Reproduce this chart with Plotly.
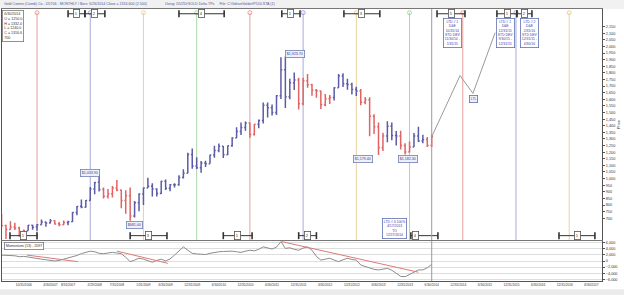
import plotly.graph_objects as go

# ---------------- data ----------------
# month index: 0 = Jan 2006
months = list(range(4, 102))
opens = [656, 645, 614, 634, 626, 599, 606, 647, 635, 650, 672, 663, 680, 658, 650, 667,
         673, 743, 790, 783, 834, 922, 972, 917, 867, 886, 928, 913, 835, 870, 717, 817,
         884, 928, 942, 922, 887, 979, 926, 954, 954, 1008, 1040, 1182, 1096, 1083, 1118, 1113,
         1179, 1212, 1244, 1181, 1248, 1308, 1357, 1386, 1421, 1333, 1411, 1439, 1556, 1536, 1500, 1628,
         1825, 1620, 1725, 1746, 1566, 1740, 1711, 1669, 1664, 1560, 1604, 1614, 1687, 1776, 1719, 1712,
         1675, 1663, 1578, 1597, 1472, 1393, 1234, 1323, 1396, 1327, 1323, 1250, 1202, 1240, 1322, 1284,
         1296, 1250]
highs = [730, 650, 677, 665, 635, 614, 648, 650, 655, 691, 673, 694, 685, 672, 683, 681,
         747, 793, 841, 837, 936, 975, 1034, 932, 922, 944, 989, 915, 912, 933, 831, 889,
         933, 1007, 964, 926, 983, 994, 959, 964, 1026, 1071, 1195, 1227, 1162, 1133, 1135, 1180,
         1249, 1266, 1246, 1250, 1313, 1388, 1425, 1432, 1424, 1414, 1448, 1577, 1577, 1561, 1633, 1918,
         1924, 1756, 1803, 1764, 1764, 1792, 1718, 1678, 1667, 1641, 1632, 1692, 1791, 1798, 1755, 1725,
         1696, 1679, 1617, 1615, 1488, 1425, 1348, 1434, 1424, 1361, 1362, 1267, 1280, 1346, 1392, 1332,
         1315, 1332]
lows = [640, 543, 612, 610, 560, 560, 605, 613, 605, 650, 636, 660, 653, 640, 648, 647,
        671, 723, 775, 782, 833, 882, 903, 849, 850, 857, 904, 775, 734, 681, 705, 752,
        800, 928, 865, 865, 884, 914, 904, 932, 946, 1000, 1040, 1075, 1072, 1044, 1088, 1112,
        1157, 1200, 1155, 1178, 1242, 1308, 1330, 1362, 1309, 1327, 1381, 1418, 1462, 1478, 1481, 1602,
        1535, 1600, 1670, 1523, 1556, 1687, 1627, 1613, 1527, 1548, 1564, 1591, 1687, 1693, 1672, 1636,
        1626, 1555, 1562, 1321, 1338, 1179, 1208, 1275, 1290, 1251, 1221, 1182, 1200, 1240, 1277, 1268,
        1240, 1240]
closes = [643, 614, 634, 626, 599, 606, 646, 632, 650, 672, 663, 680, 657, 650, 667, 673,
          743, 789, 783, 834, 922, 971, 917, 867, 886, 928, 913, 835, 870, 717, 817, 884,
          928, 942, 922, 887, 979, 926, 954, 954, 1008, 1040, 1182, 1096, 1083, 1118, 1113, 1179,
          1212, 1244, 1181, 1248, 1308, 1357, 1386, 1421, 1333, 1411, 1439, 1556, 1536, 1500, 1628, 1825,
          1620, 1725, 1746, 1566, 1740, 1711, 1669, 1664, 1560, 1604, 1614, 1687, 1776, 1719, 1712, 1675,
          1663, 1578, 1597, 1472, 1393, 1234, 1323, 1396, 1327, 1323, 1250, 1202, 1240, 1322, 1284, 1296,
          1250, 1317]
# trend colour of each bar (R = red, B = blue)
bar_trend = ("RRRRRR" "BBBBBB" "RRR" "BBBBBBBB" "RRRRRRR"
             "BBBBBBBBBBBBBBBBBBBBBBBBBB" "RR" "BBBBBBBBB" "RRRRRRRR"
             "BBBBBB" "RRRRRR" "BBB" "RRR" "BBB" "RR")

momentum = [1900, 1900, 1900, 1700, 1400, 1500, 1300, 1000, 900, 600, 400, 300, 0, 200, 600, 1000,
            1300, 1800, 2400, 2700, 3200, 3000, 2500, 2400, 2700, 2800, 2600, 2400, 1200, -200, 300, 900,
            600, 0, -400, 200, 600, 0, 700, 1900, 3200, 4600, 3500, 2500, 2300, 2200, 2100, 2500,
            2800, 3000, 3100, 3200, 3200, 3000, 2800, 3200, 3500, 3300, 3800, 4600, 4200, 3900, 4500, 6300,
            4100, 4300, 3800, 3500, 4200, 4600, 3500, 1500, 300, 500, 900, 300, -200, 400, 900, 500,
            300, -1300, -1800, -2300, -2700, -2900, -2600, -2400, -3000, -4000, -5000, -5100, -4300, -3500, -2900, -2900,
            -2200, -1100]

mom_trend_lines = [((9.7, 1935), (21.2, -215)),
                   ((30.0, 3230), (41.5, -750)),
                   ((67.2, 6300), (98.0, -3650))]

proj_months = [101, 107.4, 110.3, 115.3]
proj_values = [1317, 1780, 1645, 2105]

cycle_months = [12, 24, 36, 48, 60, 72, 84, 96, 108, 120, 132]
cycle_colors = ["#e8a0a0", "#a8a8dc", "#e8d49c", "#a8d8a8"]
current_month = 101

tick_months = [5, 9, 15, 19, 25, 30, 36, 41, 47, 53, 59, 65, 71, 77, 83, 89, 95, 101,
               107, 113, 119, 125, 131, 137]
tick_labels = ["6/30/2006", "10/31/2006", "4/30/2007", "8/31/2007", "2/29/2008", "7/31/2008",
               "1/31/2009", "6/30/2009", "12/31/2009", "6/30/2010", "12/31/2010", "6/30/2011",
               "12/31/2011", "6/30/2012", "12/31/2012", "6/30/2013", "12/31/2013", "6/30/2014",
               "12/31/2014", "6/30/2015", "12/31/2015", "6/30/2016", "12/31/2016", "6/30/2017"]
price_ticks = list(range(700, 2151, 50))
mom_ticks = [-6000, -4000, -2000, 0, 2000, 4000, 6000]

price_labels = [(24.0, 1045, "$1,033.90"), (33.9, 651, "$681.00"), (70.2, 1946, "$1,923.70"),
                (85.5, 1147, "$1,179.40"), (95.6, 1147, "$1,182.30")]

top_brackets = [(19.0, 22.8, 20.9, "1"), (22.8, 27.3, 25.0, "2"), (44.0, 54.2, 49.1, "4"),
                (67.2, 71.3, 69.2, "1"), (81.2, 89.3, 85.2, "3"), (102.2, 108.5, 105.4, "5"),
                (115.7, 120.2, 118.0, "1"), (120.2, 123.6, 121.9, "2")]
bottom_brackets = [(5.9, 12.0, 8.9, "1"), (33.0, 41.3, 37.2, "3"), (54.0, 60.5, 57.2, "1"),
                   (71.0, 75.0, 73.0, "2"), (96.3, 102.4, 97.4, "4"), (129.7, 137.8, 133.8, "1")]

ltd_boxes = [(105.7, "LTD # 1<br>D&E<br>10/31/14<br>STD DEV<br>11/30/14 -<br>1/31/15"),
             (117.7, "LTD # 1<br>D&E<br>12/31/15<br>STD DEV<br>9/30/15 -<br>12/31/15"),
             (123.0, "LTD # 2<br>D&E<br>2/31/16<br>STD DEV<br>12/31/15 -<br>4/30/16")]

# ---------------- figure ----------------
FONT = "Liberation Sans, Arial, sans-serif"
BLUE_BAR = "#5c5ca6"
RED_BAR = "#e06464"
X_RANGE = [4.1, 139.4]
Y_RANGE = [535, 2284]
M_RANGE = [-6500, 6500]
TOP_Y = 2256
TOP_BR_Y = 2248
BOT_BR_Y = 568

fig = go.Figure()

for flag, col in (("B", BLUE_BAR), ("R", RED_BAR)):
    idx = [i for i, f in enumerate(bar_trend) if f == flag]
    fig.add_trace(go.Ohlc(
        x=[months[i] for i in idx], open=[opens[i] for i in idx], high=[highs[i] for i in idx],
        low=[lows[i] for i in idx], close=[closes[i] for i in idx],
        increasing=dict(line=dict(color=col, width=1.5)),
        decreasing=dict(line=dict(color=col, width=1.5)),
        tickwidth=0.3, xaxis="x2", yaxis="y", hoverinfo="skip", showlegend=False))

# cycle lines
for i, m in enumerate(cycle_months):
    c = cycle_colors[i % 4]
    fig.add_shape(type="line", xref="x2", yref="y", x0=m, x1=m, y0=TOP_Y, y1=Y_RANGE[0],
                  line=dict(color=c, width=1), layer="below")
fig.add_trace(go.Scatter(x=cycle_months, y=[TOP_Y] * len(cycle_months), mode="markers",
                         marker=dict(symbol="circle-open", size=4,
                                     color=[cycle_colors[i % 4] for i in range(len(cycle_months))],
                                     line=dict(width=1)),
                         xaxis="x2", yaxis="y", hoverinfo="skip", showlegend=False))
# current month line
fig.add_shape(type="line", xref="x2", yref="y", x0=current_month, x1=current_month,
              y0=Y_RANGE[1], y1=Y_RANGE[0], line=dict(color="#9a9a9a", width=1))
fig.add_shape(type="line", xref="x", yref="y2", x0=current_month, x1=current_month,
              y0=M_RANGE[1], y1=M_RANGE[0], line=dict(color="#9a9a9a", width=1))

# projection
fig.add_trace(go.Scatter(x=proj_months, y=proj_values, mode="lines",
                         line=dict(color="#9a9a9a", width=1), xaxis="x2", yaxis="y",
                         hoverinfo="skip", showlegend=False))

# brackets
def bracket(x0, x1, xl, label, yv):
    fig.add_trace(go.Scatter(x=[x0, x1], y=[yv, yv], mode="lines+markers",
                             line=dict(color="#333333", width=1),
                             marker=dict(symbol="line-ns", size=5, line=dict(color="#333333", width=1.6)),
                             xaxis="x2", yaxis="y", hoverinfo="skip", showlegend=False))
    fig.add_annotation(x=xl, y=yv, xref="x2", yref="y", text=label, showarrow=False,
                       font=dict(size=4, color="#333333", family=FONT),
                       bgcolor="white", bordercolor="#555555", borderwidth=0.8, borderpad=1)

for b in top_brackets:
    bracket(*b, TOP_BR_Y)
for b in bottom_brackets:
    bracket(*b, BOT_BR_Y)

# price labels
for m, p, t in price_labels:
    fig.add_annotation(x=m, y=p, xref="x2", yref="y", text=t, showarrow=False,
                       font=dict(size=3.6, color="#3a3a9a", family=FONT),
                       bgcolor="#eef0fa", bordercolor="#7080b0", borderwidth=0.8, borderpad=1)

# LTD boxes
for m, t in ltd_boxes:
    fig.add_annotation(x=m, y=2218, xref="x2", yref="y", yanchor="top", text=t, showarrow=False,
                       font=dict(size=3.4, color="#3a3ab0", family=FONT), align="center",
                       bgcolor="white", bordercolor="#6070b0", borderwidth=0.8, borderpad=1)
fig.add_annotation(x=92.5, y=540, xref="x2", yref="y", yanchor="bottom",
                   text="LTD # 4 100%<br>4/17/2013<br>TO<br>12/17/2014", showarrow=False,
                   font=dict(size=3.4, color="#3a3ab0", family=FONT), align="center",
                   bgcolor="white", bordercolor="#6070b0", borderwidth=0.8, borderpad=1)
fig.add_annotation(x=110.5, y=1601, xref="x2", yref="y", text="LTL", showarrow=False,
                   font=dict(size=3.4, color="#3a3ab0", family=FONT),
                   bgcolor="#eef0fa", bordercolor="#6070b0", borderwidth=0.8, borderpad=1)

# info box
fig.add_annotation(x=0.0, y=0.997, xref="paper", yref="paper", xanchor="left", yanchor="top",
                   text="6/30/2014<br>O = 1250.0<br>H = 1332.0<br>L = 1240.0<br>C = 1316.6<br>700",
                   showarrow=False, align="left",
                   font=dict(size=3.6, color="#333333", family=FONT),
                   bgcolor="white", bordercolor="#777777", borderwidth=0.8, borderpad=1.5)

# momentum
fig.add_trace(go.Scatter(x=months, y=momentum, mode="lines", line=dict(color="#8c8c8c", width=1),
                         xaxis="x", yaxis="y2", hoverinfo="skip", showlegend=False))
for (a, b) in mom_trend_lines:
    fig.add_trace(go.Scatter(x=[a[0], b[0]], y=[a[1], b[1]], mode="lines",
                             line=dict(color="#e07878", width=1), xaxis="x", yaxis="y2",
                             hoverinfo="skip", showlegend=False))
fig.add_annotation(x=0.003, y=0.143, xref="paper", yref="paper", xanchor="left", yanchor="top",
                   text="Momentum (13) , 2097", showarrow=False,
                   font=dict(size=3.6, color="#333333", family=FONT),
                   bgcolor="white", bordercolor="#777777", borderwidth=0.8, borderpad=1)

# title
fig.add_annotation(x=0.0, y=1.0, xref="paper", yref="paper", xanchor="left", yanchor="bottom",
                   yshift=1,
                   text="Gold Comex (Comb) Co - D5T06 - MONTHLY / Bars: 6/26/2014 Close = 1316.600 (2.500)"
                        "                  Using: D5/ZD/GOLD Delta TPs     File: C:\\Gdrive\\folder\\P510.STA (1)",
                   showarrow=False, font=dict(size=3.6, color="#4a5a9a", family=FONT))

# background bands
fig.add_shape(type="rect", xref="paper", yref="paper", x0=-0.01, x1=1.05, y0=1.0, y1=1.04,
              fillcolor="#f1f1f1", line=dict(width=0), layer="below")
fig.add_shape(type="rect", xref="paper", yref="paper", x0=-0.01, x1=1.05, y0=-0.06, y1=-0.03,
              fillcolor="#ececec", line=dict(width=0), layer="below")

axis_font = dict(size=3.8, color="#333333", family=FONT)
fig.update_layout(
    width=624, height=295,
    margin=dict(l=2, r=22, t=9, b=14),
    paper_bgcolor="white", plot_bgcolor="white",
    font=dict(family=FONT),
    showlegend=False,
    xaxis=dict(domain=[0, 1], anchor="y2", range=X_RANGE, tickmode="array",
               tickvals=tick_months, ticktext=tick_labels,
               tickfont=dict(size=3.2, color="#333333", family=FONT), tickangle=0,
               ticks="", showgrid=False, zeroline=False, showline=True, linecolor="#555555",
               linewidth=1, mirror=True, rangeslider=dict(visible=False)),
    xaxis2=dict(domain=[0, 1], anchor="y", matches="x", showticklabels=False, ticks="",
                showgrid=False, zeroline=False, showline=True, linecolor="#777777",
                linewidth=1, mirror=True, rangeslider=dict(visible=False)),
    yaxis=dict(domain=[0.1507, 1], anchor="x2", side="right", range=Y_RANGE,
               tickmode="array", tickvals=price_ticks, tickformat=",", tickfont=axis_font,
               ticks="outside", ticklen=2, tickcolor="#555555", showgrid=False, zeroline=False,
               showline=True, linecolor="#555555", linewidth=1, mirror=True,
               title=dict(text="Price", font=dict(size=4, color="#333333", family=FONT), standoff=2)),
    yaxis2=dict(domain=[0, 0.147], anchor="x", side="right", range=M_RANGE,
                tickmode="array", tickvals=mom_ticks, tickformat=",", tickfont=axis_font,
                ticks="outside", ticklen=2, tickcolor="#555555", showgrid=True,
                gridcolor="#dedede", gridwidth=0.8, zeroline=False,
                showline=True, linecolor="#555555", linewidth=1, mirror=True),
)

fig.write_html("out.html")
